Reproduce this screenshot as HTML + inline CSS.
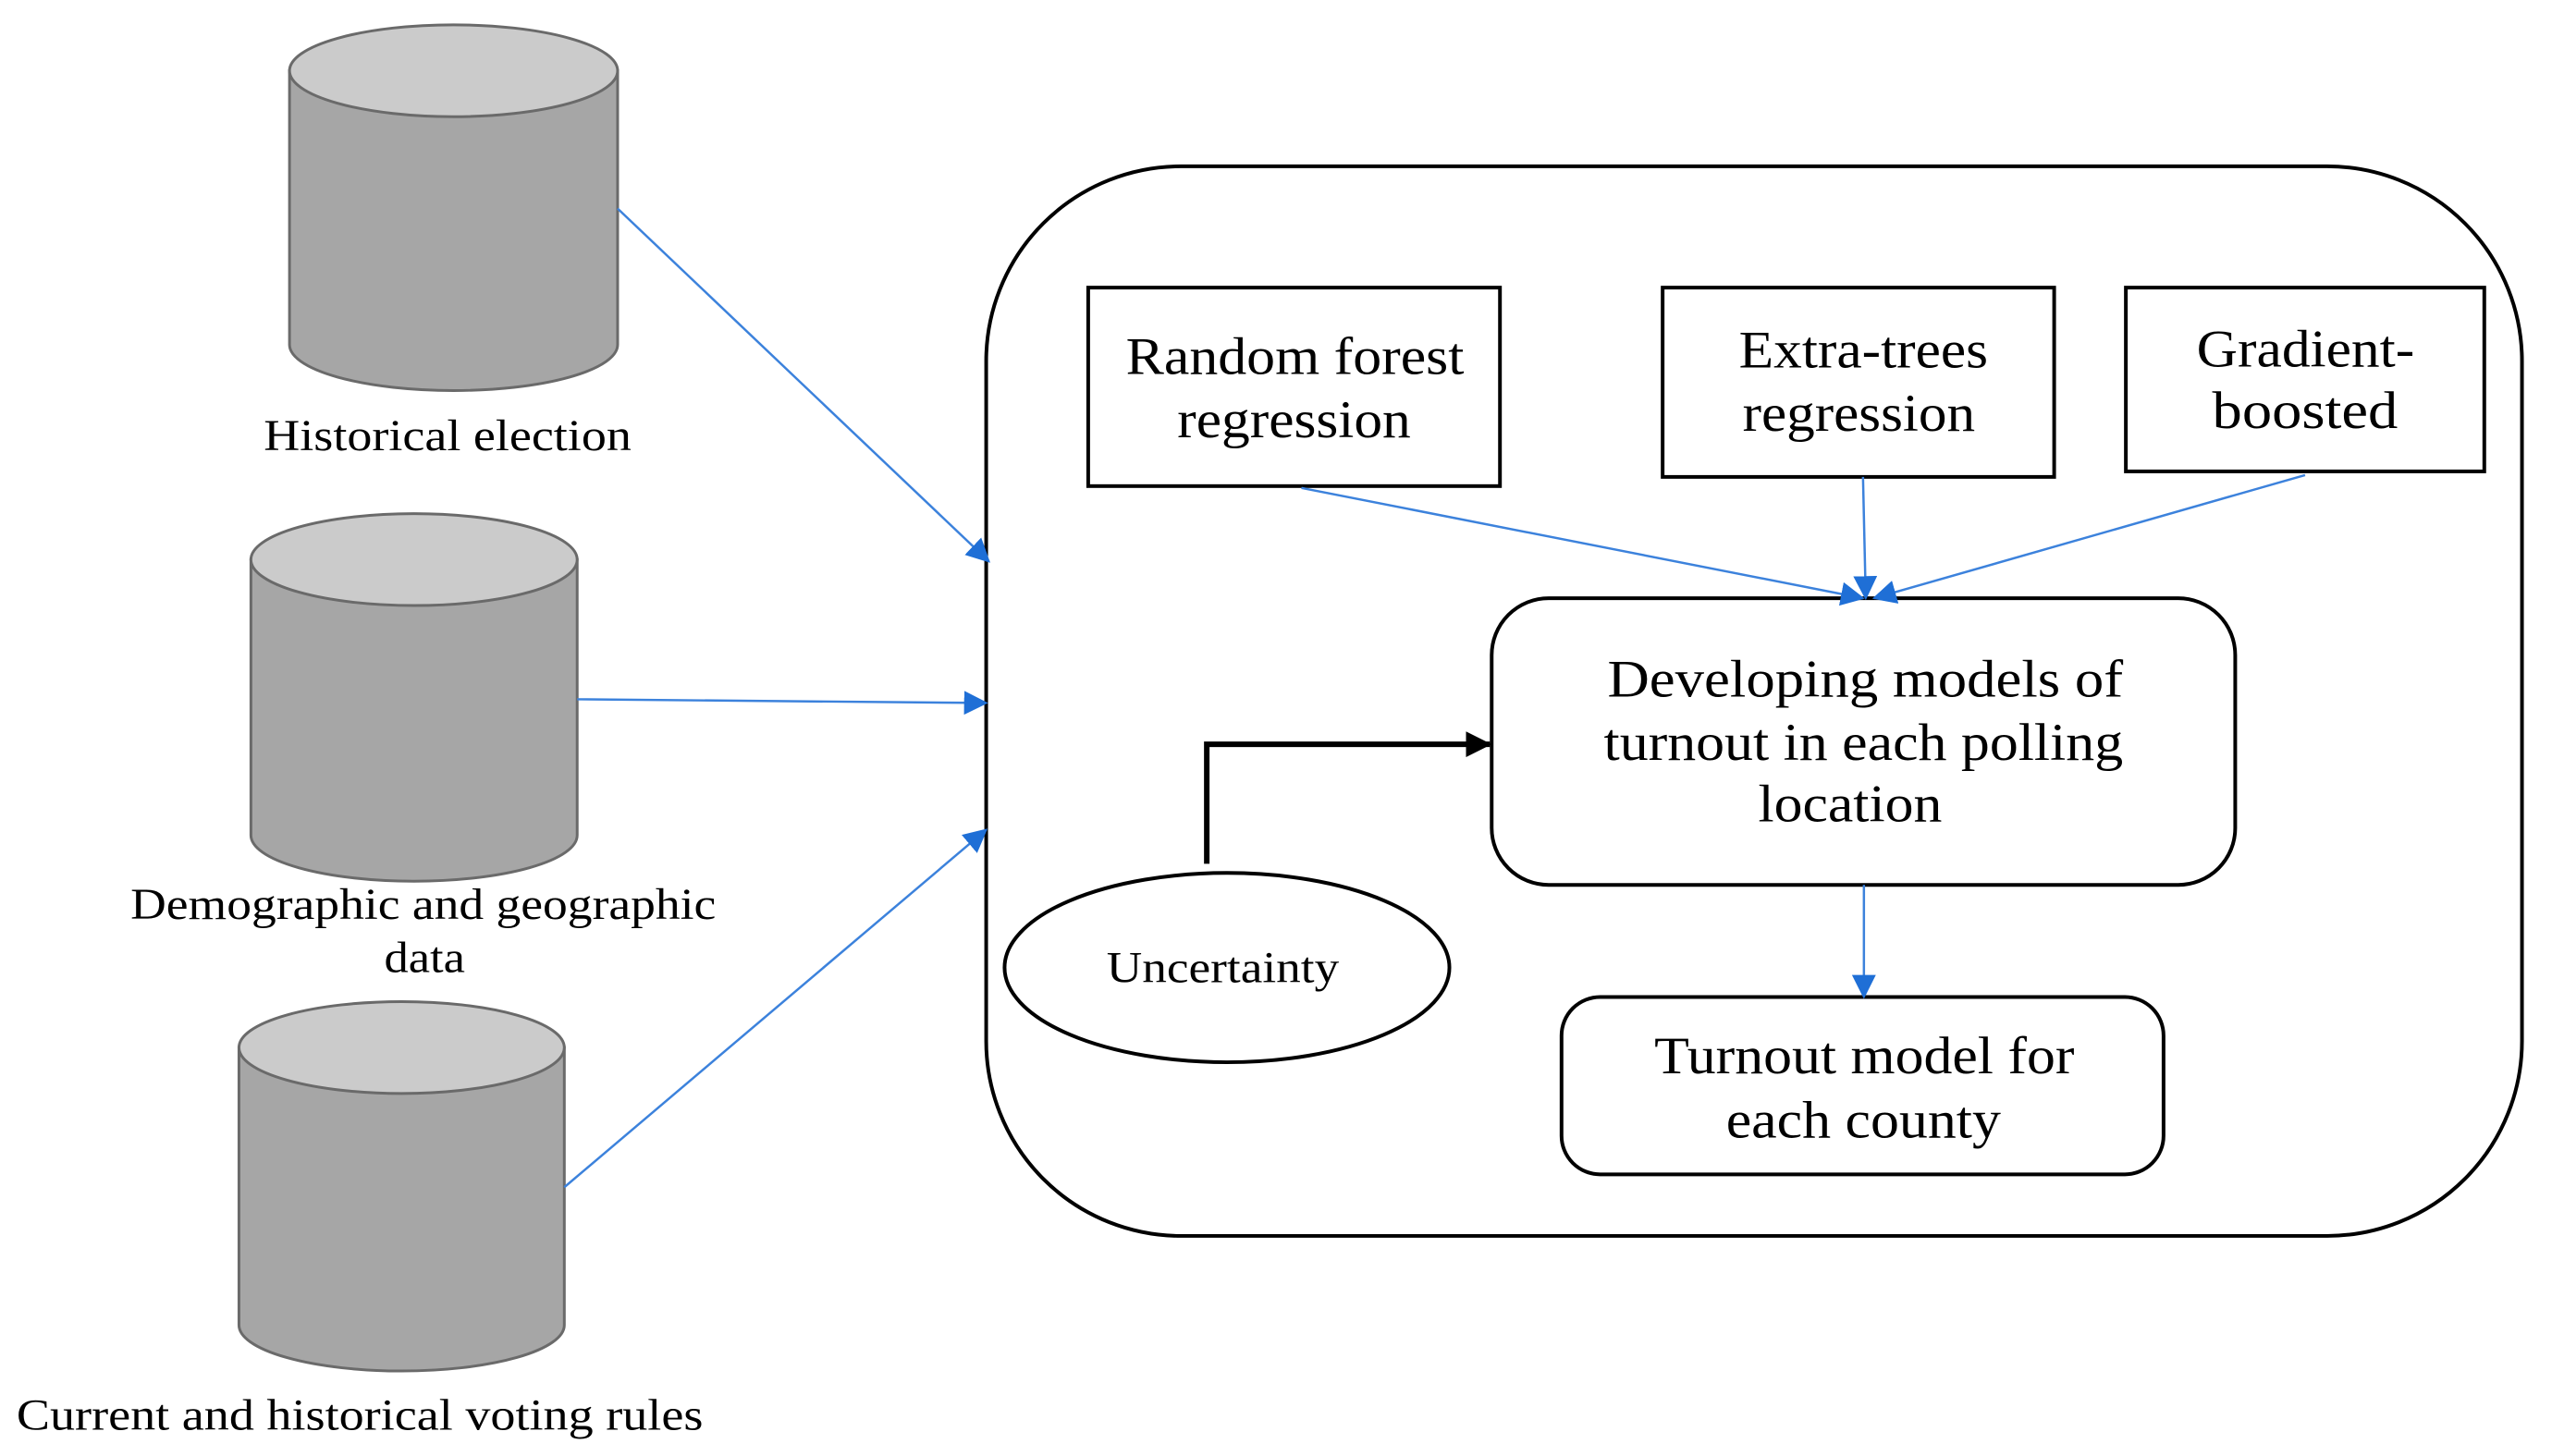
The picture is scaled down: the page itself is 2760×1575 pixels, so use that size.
<!DOCTYPE html>
<html><head><meta charset="utf-8"><style>html,body{margin:0;padding:0;background:#fff}svg{display:block}</style></head>
<body>
<svg width="2760" height="1575" viewBox="0 0 2760 1575" xmlns="http://www.w3.org/2000/svg" font-family="Liberation Serif, serif" fill="#000">
<defs>
<marker id="abl" markerWidth="26" markerHeight="26" refX="24" refY="13" orient="auto" markerUnits="userSpaceOnUse" viewBox="0 0 26 26"><path d="M0,0 L26,13 L0,26 z" fill="#1f6fd6"/></marker>
<marker id="ak" markerWidth="28" markerHeight="28" refX="26" refY="14" orient="auto" markerUnits="userSpaceOnUse" viewBox="0 0 28 28"><path d="M0,0 L28,14 L0,28 z" fill="#000"/></marker>
</defs>
<g transform="scale(0.994)">
<g stroke="#6a6a6a" stroke-width="3">
<path d="M315,77 L315,375 A178.5,50 0 0 0 672,375 L672,77 Z" fill="#a6a6a6"/>
<ellipse cx="493.5" cy="77" rx="178.5" ry="50" fill="#cbcbcb"/>
<path d="M273,609 L273,909 A177.5,50 0 0 0 628,909 L628,609 Z" fill="#a6a6a6"/>
<ellipse cx="450.5" cy="609" rx="177.5" ry="50" fill="#cbcbcb"/>
<path d="M260,1140 L260,1442 A177,50 0 0 0 614,1442 L614,1140 Z" fill="#a6a6a6"/>
<ellipse cx="437" cy="1140" rx="177" ry="50" fill="#cbcbcb"/>
</g>
<g font-size="48">
<text x="287" y="490" textLength="400" lengthAdjust="spacingAndGlyphs">Historical election</text>
<text x="142" y="1000" textLength="637" lengthAdjust="spacingAndGlyphs">Demographic and geographic</text>
<text x="418" y="1058" textLength="88" lengthAdjust="spacingAndGlyphs">data</text>
<text x="18" y="1556" textLength="747" lengthAdjust="spacingAndGlyphs">Current and historical voting rules</text>
</g>
<rect x="1073" y="181" width="1671" height="1164" rx="212" ry="212" fill="none" stroke="#000" stroke-width="4"/>
<g fill="#fff" stroke="#000" stroke-width="4">
<rect x="1184" y="313" width="448" height="216"/>
<rect x="1809" y="313" width="426" height="206"/>
<rect x="2313" y="313" width="390" height="200"/>
<rect x="1623" y="651" width="809" height="312" rx="62" ry="62"/>
<rect x="1699" y="1085" width="655" height="193" rx="42" ry="42"/>
<ellipse cx="1335" cy="1053" rx="242" ry="103"/>
</g>
<g font-size="58">
<text x="1225" y="407" textLength="368" lengthAdjust="spacingAndGlyphs">Random forest</text>
<text x="1281" y="476" textLength="254" lengthAdjust="spacingAndGlyphs">regression</text>
<text x="1892" y="400" textLength="271" lengthAdjust="spacingAndGlyphs">Extra-trees</text>
<text x="1896" y="469" textLength="253" lengthAdjust="spacingAndGlyphs">regression</text>
<text x="2390" y="399" textLength="237" lengthAdjust="spacingAndGlyphs">Gradient-</text>
<text x="2407" y="466" textLength="202" lengthAdjust="spacingAndGlyphs">boosted</text>
<text x="1749" y="758" textLength="561" lengthAdjust="spacingAndGlyphs">Developing models of</text>
<text x="1745" y="827" textLength="565" lengthAdjust="spacingAndGlyphs">turnout in each polling</text>
<text x="1913" y="894" textLength="200" lengthAdjust="spacingAndGlyphs">location</text>
<text x="1800" y="1168" textLength="457" lengthAdjust="spacingAndGlyphs">Turnout model for</text>
<text x="1878" y="1238" textLength="299" lengthAdjust="spacingAndGlyphs">each county</text>
</g>
<text x="1204" y="1069" font-size="48" textLength="253" lengthAdjust="spacingAndGlyphs">Uncertainty</text>
<g stroke="#3c82dc" stroke-width="2.5" fill="none" marker-end="url(#abl)">
<line x1="672" y1="227" x2="1076" y2="611"/>
<line x1="628" y1="761" x2="1073" y2="765"/>
<line x1="614" y1="1292" x2="1073" y2="903"/>
<line x1="1416" y1="531" x2="2027" y2="651"/>
<line x1="2027" y1="519" x2="2030" y2="651"/>
<line x1="2508" y1="517" x2="2039" y2="651"/>
<line x1="2028" y1="963" x2="2028" y2="1085"/>
</g>
<path d="M1313,940 L1313,810 L1621,810" fill="none" stroke="#000" stroke-width="6" marker-end="url(#ak)"/>
</g>
</svg>
</body></html>
